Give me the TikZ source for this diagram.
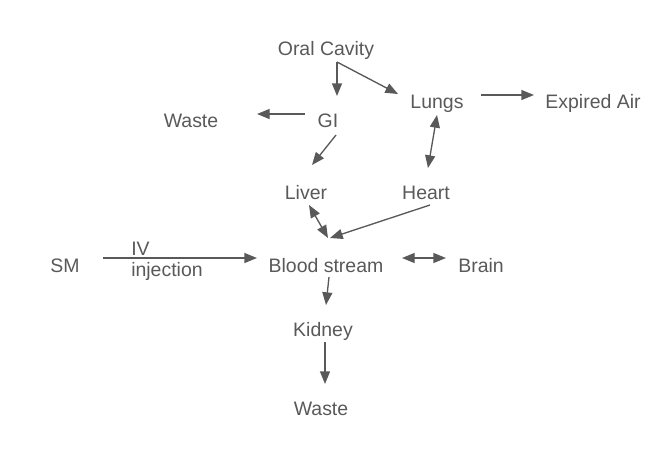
\documentclass[tikz,border=0pt]{standalone}
\usepackage{fontspec}
\setmainfont{Liberation Sans}
\usetikzlibrary{arrows.meta}
\definecolor{ink}{HTML}{595959}
\begin{document}
\begin{tikzpicture}[x=0.75pt,y=-0.75pt,
  lbl/.style={anchor=base,inner sep=0pt,text=ink,font=\fontsize{14.6}{17.5}\selectfont},
  conn/.style={draw=ink,line width=1pt,-{Triangle[length=9.5pt,width=7.5pt]}},
  biconn/.style={draw=ink,line width=1pt,{Triangle[length=9.5pt,width=7.5pt]}-{Triangle[length=9.5pt,width=7.5pt]}}]
\useasboundingbox (0,0) rectangle (663,465);
\node[lbl] (oral) at (326,55) {Oral Cavity};
\node[lbl] (lungs) at (437,108) {Lungs};
\node[lbl] (exp) at (593,108) {Expired Air};
\node[lbl] (waste1) at (191,127) {Waste};
\node[lbl] (gi) at (328,127) {GI};
\node[lbl] (liver) at (306,199) {Liver};
\node[lbl] (heart) at (426,199) {Heart};
\node[lbl] (sm) at (65,272) {SM};
\node[lbl] (blood) at (326,272) {Blood stream};
\node[lbl] (brain) at (481,272) {Brain};
\node[lbl] (kidney) at (323,336) {Kidney};
\node[lbl] (waste2) at (321,415) {Waste};
\node[lbl,anchor=base west] (iv) at (131,255) {IV};
\node[lbl,anchor=base west] (inj) at (131,276) {injection};
% connector end points
\coordinate (oralS) at (337,62);
\coordinate (giN) at (337,96);
\coordinate (lungsNW) at (398,94);
\coordinate (giW) at (305,114);
\coordinate (wasteE) at (257,114);
\coordinate (giS) at (336,135);
\coordinate (liverN) at (312,165);
\coordinate (lungsE) at (481,95);
\coordinate (expW) at (534,95);
\coordinate (lungsS) at (437,115);
\coordinate (heartN) at (428,168);
\coordinate (liverS) at (309,205);
\coordinate (bloodN) at (328,238);
\coordinate (heartS) at (430,205);
\coordinate (bloodNE) at (330,238);
\coordinate (smE) at (103,258);
\coordinate (bloodW) at (257,258);
\coordinate (bloodE) at (402,258);
\coordinate (brainW) at (446,258);
\coordinate (bloodS) at (329,277);
\coordinate (kidneyN) at (326,305);
\coordinate (kidneyS) at (325,342);
\coordinate (wasteN) at (325,384);
\draw[conn] (oralS) -- (giN);
\draw[conn] (oralS) -- (lungsNW);
\draw[conn] (giW) -- (wasteE);
\draw[conn] (giS) -- (liverN);
\draw[conn] (lungsE) -- (expW);
\draw[biconn] (lungsS) -- (heartN);
\draw[biconn] (liverS) -- (bloodN);
\draw[conn] (heartS) -- (bloodNE);
\draw[conn] (smE) -- (bloodW);
\draw[biconn] (bloodE) -- (brainW);
\draw[conn] (bloodS) -- (kidneyN);
\draw[conn] (kidneyS) -- (wasteN);
\end{tikzpicture}
\end{document}
